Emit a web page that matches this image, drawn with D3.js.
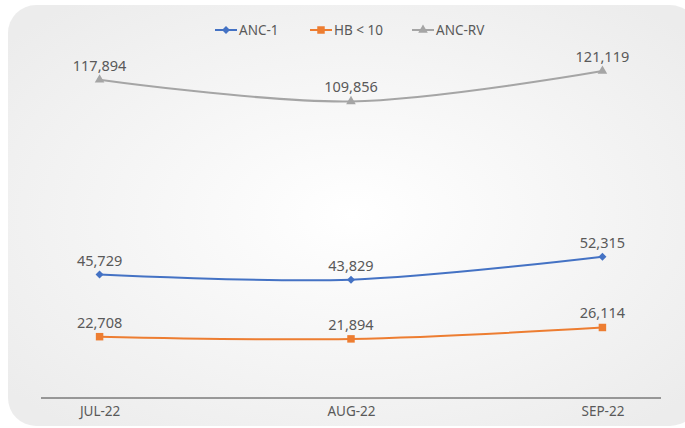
<!DOCTYPE html>
<html>
<head>
<meta charset="utf-8">
<script src="https://cdn.jsdelivr.net/npm/d3@7"></script>
<style>
  html, body { margin: 0; padding: 0; background: #fff; }
  svg { display: block; font-family: 'Noto Sans', 'Open Sans', sans-serif; }
</style>
</head>
<body>
<div id="chart"></div>
<script>
const months = ['JUL-22', 'AUG-22', 'SEP-22'];
const anc1 = [45729, 43829, 52315];
const hb10 = [22708, 21894, 26114];
const ancRv = [117894, 109856, 121119];

const seriesList = [
  { name: 'ANC-1', values: anc1, color: '#4472C4', marker: 'diamond' },
  { name: 'HB < 10', values: hb10, color: '#ED7D31', marker: 'square' },
  { name: 'ANC-RV', values: ancRv, color: '#A5A5A5', marker: 'triangle' },
];

const width = 685;
const height = 428;

const svg = d3.select('#chart')
  .append('svg')
  .attr('width', width)
  .attr('height', height);

// Background panel
const defs = svg.append('defs');
const grad = defs.append('radialGradient')
  .attr('id', 'bg')
  .attr('cx', '50%').attr('cy', '50%').attr('r', '65%');
grad.append('stop').attr('offset', '0%').attr('stop-color', '#ffffff');
grad.append('stop').attr('offset', '100%').attr('stop-color', '#ececec');

svg.append('rect')
  .attr('x', 8).attr('y', 5)
  .attr('width', 690).attr('height', 421)
  .attr('rx', 28)
  .attr('fill', 'url(#bg)');

const x = d3.scalePoint().domain(months).range([41, 661]).padding(0.233);
const y = d3.scaleLinear().domain([0, 140000]).range([398, 20]);

// Axis
const xAxis = svg.append('g')
  .attr('transform', `translate(0,${y(0)})`)
  .call(d3.axisBottom(x).tickSize(0).tickPadding(8));
xAxis.select('.domain')
  .attr('d', `M${x.range()[0]},0H${x.range()[1]}`)
  .attr('stroke', '#404040')
  .attr('stroke-width', 1);
xAxis.selectAll('text')
  .attr('fill', '#595959')
  .attr('font-size', '13.5px')
  .attr('font-family', "'Noto Sans', sans-serif");

const line = d3.line()
  .x((d, i) => x(months[i]))
  .y((d) => y(d))
  .curve(d3.curveCatmullRom.alpha(0.5));

const symbolFor = (m) => {
  if (m === 'diamond') return 'M0,-4L4,0L0,4L-4,0Z';
  if (m === 'square') return d3.symbol().type(d3.symbolSquare).size(56)();
  return d3.symbol().type(d3.symbolTriangle).size(40)();
};

const fmt = d3.format(',');

seriesList.forEach((s) => {
  const g = svg.append('g');
  g.append('path')
    .datum(s.values)
    .attr('fill', 'none')
    .attr('stroke', s.color)
    .attr('stroke-width', 2)
    .attr('d', line);

  g.selectAll('.pt')
    .data(s.values)
    .enter()
    .append('path')
    .attr('transform', (d, i) => `translate(${x(months[i])},${y(d)})`)
    .attr('d', symbolFor(s.marker))
    .attr('fill', s.color);

  g.selectAll('.lbl')
    .data(s.values)
    .enter()
    .append('text')
    .attr('x', (d, i) => x(months[i]))
    .attr('y', (d) => y(d) - 9)
    .attr('text-anchor', 'middle')
    .attr('font-size', '14.5px')
    .attr('fill', '#595959')
    .text((d) => fmt(d));
});

// Legend
const legendX = [215, 310, 412];
const legend = svg.append('g');
seriesList.forEach((s, i) => {
  const lg = legend.append('g').attr('transform', `translate(${legendX[i]},30)`);
  lg.append('line')
    .attr('x1', 0).attr('x2', 22)
    .attr('stroke', s.color).attr('stroke-width', 2);
  lg.append('path')
    .attr('transform', 'translate(11,0)')
    .attr('d', symbolFor(s.marker))
    .attr('fill', s.color);
  lg.append('text')
    .attr('x', 24)
    .attr('dy', '0.35em')
    .attr('font-size', '13.5px')
    .attr('fill', '#595959')
    .text(s.name);
});
</script>
</body>
</html>
